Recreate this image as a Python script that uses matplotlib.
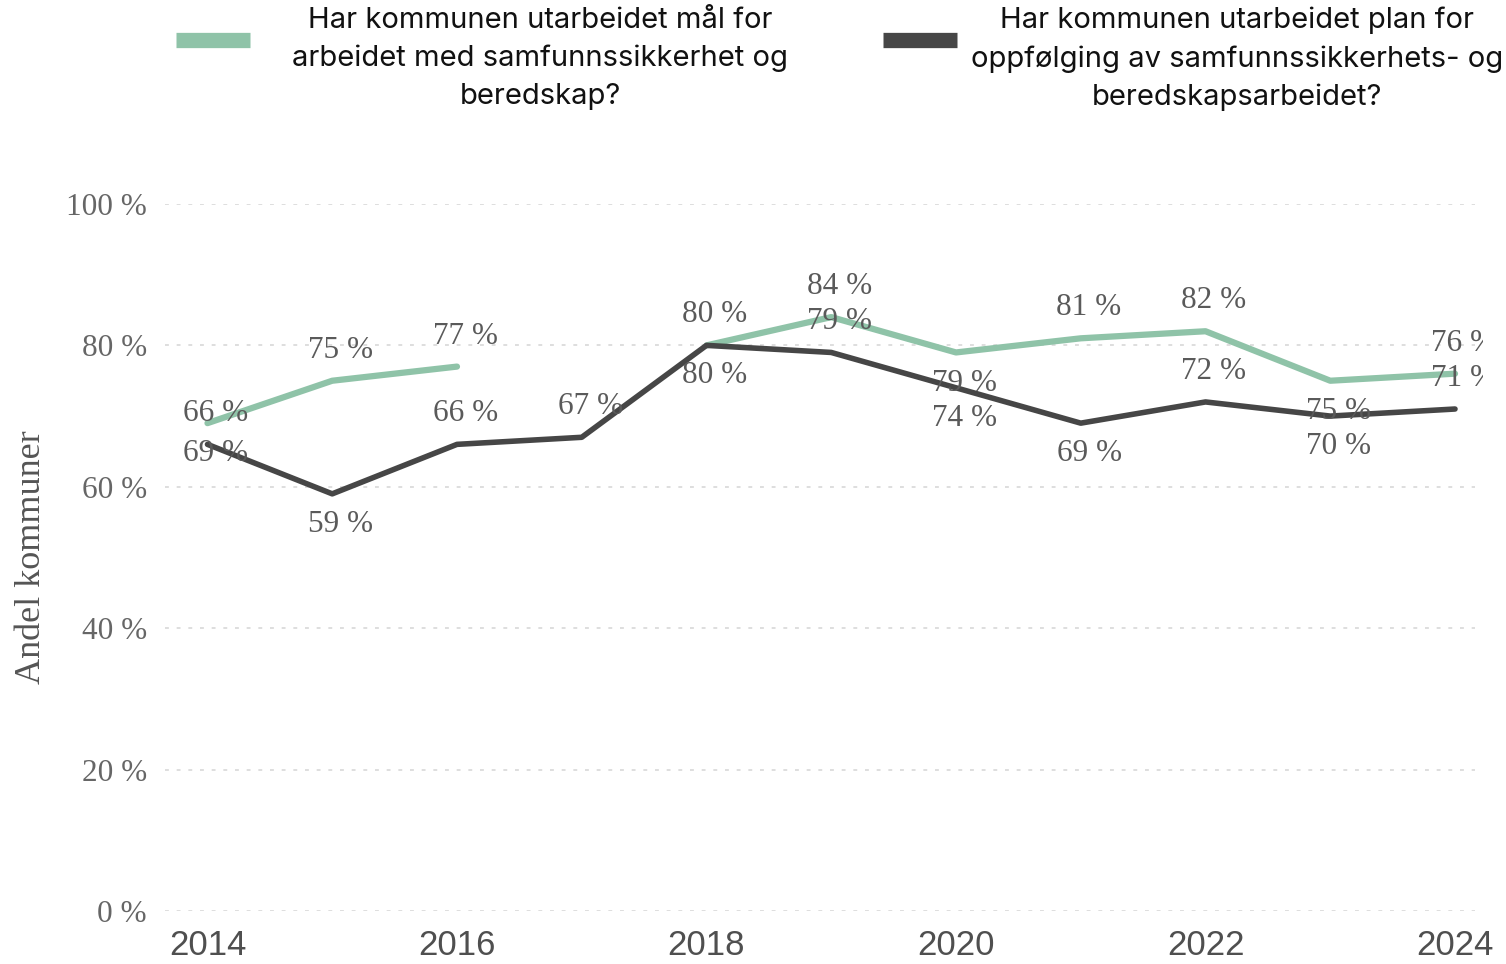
import numpy as np
import matplotlib
matplotlib.use("Agg")
from matplotlib import pyplot as plt
from matplotlib.patches import Rectangle
from matplotlib.lines import Line2D

# Data
years = [2014, 2015, 2016, 2017, 2018, 2019, 2020, 2021, 2022, 2023, 2024]
maal = [69, 75, 77, np.nan, 80, 84, 79, 81, 82, 75, 76]
plan = [66, 59, 66, 67, 80, 79, 74, 69, 72, 70, 71]

navn_maal = "Har kommunen utarbeidet mål for\narbeidet med samfunnssikkerhet og\nberedskap?"
navn_plan = "Har kommunen utarbeidet plan for\noppfølging av samfunnssikkerhets- og\nberedskapsarbeidet?"

# Label placement (1 = above, -1 = below)
pos_maal = [-1, 1, 1, 0, 1, 1, -1, 1, 1, -1, 1]
pos_plan = [1, -1, 1, 1, -1, 1, -1, -1, 1, -1, 1]

farge_maal = "#8fc3a8"
farge_plan = "#464646"
serif = ["Liberation Serif", "DejaVu Serif"]

fig = plt.figure(figsize=(15.06, 9.64), dpi=100)
ax = fig.add_axes([0.1096, 0.055, 0.8698, 0.7334])

ax.plot(years, maal, color=farge_maal, lw=4.5, solid_capstyle="round", zorder=3)
ax.plot(years, plan, color=farge_plan, lw=4.0, solid_capstyle="round", zorder=3)

clip = Rectangle((0, 0), 1483 / 1506, 1, transform=fig.transFigure, visible=False)
fig.add_artist(clip)

for verdier, posisjoner in [(maal, pos_maal), (plan, pos_plan)]:
    for x, v, p in zip(years, verdier, posisjoner):
        if np.isnan(v):
            continue
        t = ax.annotate("%d %%" % v, (x, v), xytext=(6, 22 * p), textcoords="offset points",
                        ha="center", va="center", fontsize=22.5, family=serif,
                        color="#5a5a5a", zorder=4)
        t.set_clip_path(clip)

ax.set_xlim(2013.66, 2024.16)
ax.set_ylim(0, 100)
ax.set_yticks(range(0, 101, 20))
ax.set_yticklabels(["%d %%" % v for v in range(0, 101, 20)], family=serif, fontsize=22.5, color="#666666")
ax.set_xticks([2014, 2016, 2018, 2020, 2022, 2024])
ax.set_xticklabels(["2014", "2016", "2018", "2020", "2022", "2024"],
                   family=["Liberation Sans", "DejaVu Sans"], fontsize=25, color="#4f4f4f")
ax.tick_params(length=0)
ax.tick_params(axis="y", pad=13)
ax.tick_params(axis="x", pad=13)
for s in ax.spines.values():
    s.set_visible(False)
ax.grid(axis="y", color="#dedede", lw=1.4, ls=(0, (2, 4)))
ax.set_axisbelow(True)

fig.text(0.021, 1 - 557 / 964, "Andel kommuner", rotation=90, ha="center", va="center",
         family=serif, fontsize=26, color="#555555")

# Legend, drawn by hand
sans = ["Inter", "DejaVu Sans"]
fig.add_artist(Line2D([176 / 1506, 250 / 1506], [1 - 40 / 964] * 2, color=farge_maal, lw=11,
                      solid_capstyle="butt", transform=fig.transFigure))
fig.add_artist(Line2D([883 / 1506, 957 / 1506], [1 - 40 / 964] * 2, color=farge_plan, lw=11,
                      solid_capstyle="butt", transform=fig.transFigure))
fig.text(540 / 1506, 1 - 7 / 964, navn_maal, ha="center", va="top", multialignment="center",
         family=sans, fontsize=21, color="#111111", linespacing=1.5)
fig.text(1237 / 1506, 1 - 7 / 964, navn_plan, ha="center", va="top", multialignment="center",
         family=sans, fontsize=21, color="#111111", linespacing=1.5)

fig.savefig("out.png", dpi=100)
